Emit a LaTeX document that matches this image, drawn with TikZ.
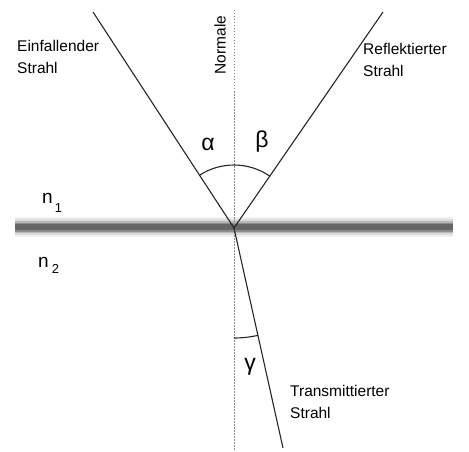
\documentclass[tikz,border=0pt]{standalone}
\usepackage{fontspec}
\setmainfont{Liberation Sans}
\usetikzlibrary{calc}
\tikzset{
  ray/.style={draw=black!85, line width=1.1pt},
  normalline/.style={draw=black!45, line width=0.9pt, dash pattern=on 1.5pt off 1.5pt},
  anglearc/.style={draw=black!85, line width=1.1pt},
  label/.style={inner sep=0pt, align=left, font=\fontsize{15.5}{22}\selectfont},
  greek/.style={inner sep=0pt, font=\fontsize{23}{23}\selectfont},
  idx/.style={inner sep=0pt, font=\fontsize{19}{19}\selectfont}
}
\begin{document}
\begin{tikzpicture}[x=1pt,y=-1pt]
\useasboundingbox (0,0) rectangle (469,452);
% surface band
\foreach \w/\c in {20/6, 16/14, 12/28, 9/45, 6/60}{
  \draw[line width=\w pt, draw=black!\c] (15,227) -- (453,227);
}
\coordinate (O) at (234,228);
\coordinate (I) at (93,12);
\coordinate (R) at (383,12);
\coordinate (T) at (283,448);
\coordinate (Ntop) at (234,10);
\coordinate (Nbot) at (234,450);
% normal
\draw[normalline] (Ntop) -- (Nbot);
% rays
\draw[ray] (I) -- (O);
\draw[ray] (O) -- (R);
\draw[ray] (O) -- (T);
% angle arcs (y axis points down)
\draw[anglearc] ($(O)+(-123.1:63)$) arc[start angle=-123.1, end angle=-55.4, radius=63];
\draw[anglearc] ($(O)+(77.4:110)$) arc[start angle=77.4, end angle=90, radius=110];
% labels
\node[label, anchor=north west] (einf) at (17,40) {Einfallender\\Strahl};
\node[label, anchor=north west] (refl) at (363,43) {Reflektierter\\Strahl};
\node[label, anchor=north west] (trans) at (290,385) {Transmittierter\\Strahl};
\node[label, rotate=90] (norm) at (220,45) {Normale};
\node[greek] (alpha) at (208,144) {α};
\node[greek] (beta) at (262,142) {β};
\node[greek] (gamma) at (250,367) {γ};
\node[idx, anchor=base west] (n1) at (42,203) {n\hspace{2pt}\raisebox{-9pt}{\fontsize{13}{13}\selectfont 1}};
\node[idx, anchor=base west] (n2) at (38,267) {n\hspace{3pt}\raisebox{-6pt}{\fontsize{13}{13}\selectfont 2}};
\end{tikzpicture}
\end{document}
